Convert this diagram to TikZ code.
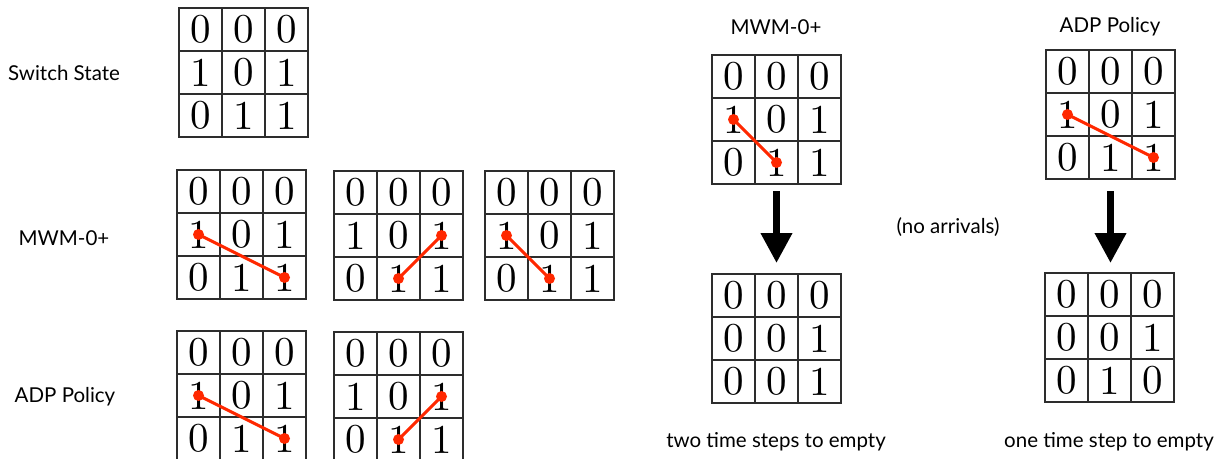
\documentclass[tikz,border=0pt]{standalone}
\usepackage{fontspec}
\newfontfamily\labfont{Lato}
\newfontfamily\digitfont{lmroman10-regular}[Extension=.otf]
\usetikzlibrary{arrows.meta}
\definecolor{matchred}{RGB}{255,40,0}
\definecolor{gridc}{RGB}{45,45,45}
\tikzset{
  cellbox/.style={draw=gridc, line width=1.6pt, minimum size=43pt, inner sep=0pt, outer sep=0pt,
    anchor=center, font=\digitfont\fontsize{41}{41}\selectfont},
  lab/.style={font=\labfont\fontsize{20.5}{24}\selectfont, inner sep=0pt},
  match/.style={draw=matchred, line width=3pt},
  bigarrow/.style={line width=7pt, -{Triangle[length=30pt,width=30pt]}}
}
% #1 name, #2 x of top-left, #3 y of top-left, #4 nine entries
\newcommand\switchgrid[4]{%
  \foreach \v [count=\k from 0] in {#4} {
    \pgfmathtruncatemacro\rr{int(\k/3)+1}
    \pgfmathtruncatemacro\cc{mod(\k,3)+1}
    \node[cellbox] (#1-\rr-\cc) at ({#2+(\cc-0.5)*43},{#3+(\rr-0.5)*43}) {\v};
  }%
  \coordinate (#1-south) at ({#2+1.5*43},{#3+3*43});
  \coordinate (#1-north) at ({#2+1.5*43},{#3});
}
\begin{document}
\begin{tikzpicture}[x=1pt,y=-1pt]
\useasboundingbox (0,0) rectangle (1218,458);
% left column labels
\node[lab] (lswitch) at (64,73) {Switch State};
\node[lab] (lmwm) at (64,238) {MWM-0+};
\node[lab] (ladp) at (65,397) {ADP Policy};
% switch state
\switchgrid{g0}{179}{8}{0,0,0,1,0,1,0,1,1}
% MWM row
\switchgrid{m1}{177}{170}{0,0,0,1,0,1,0,1,1}
\switchgrid{m2}{334}{171}{0,0,0,1,0,1,0,1,1}
\switchgrid{m3}{485}{171}{0,0,0,1,0,1,0,1,1}
% ADP row
\switchgrid{a1}{177}{331}{0,0,0,1,0,1,0,1,1}
\switchgrid{a2}{334}{332}{0,0,0,1,0,1,0,1,1}
% right part
\node[lab] (tmwm) at (776,27) {MWM-0+};
\node[lab] (tadp) at (1110,27) {ADP Policy};
\switchgrid{rmt}{712}{55}{0,0,0,1,0,1,0,1,1}
\switchgrid{rmb}{712}{274}{0,0,0,0,0,1,0,0,1}
\switchgrid{rat}{1046}{50}{0,0,0,1,0,1,0,1,1}
\switchgrid{rab}{1045}{273}{0,0,0,0,0,1,0,1,0}
\node[lab] (noarr) at (948,227) {(no arrivals)};
\node[lab] (two) at (776,442) {two time steps to empty};
\node[lab] (one) at (1109,442) {one time step to empty};
% arrows
\draw[bigarrow, shorten <=7pt, shorten >=11pt] (rmt-south) -- (rmt-south |- rmb-north);
\draw[bigarrow, shorten <=12pt, shorten >=10pt] (rat-south) -- (rat-south |- rab-north);
% matchings
\foreach \g/\p/\q in {m1/2-1/3-3, m2/2-3/3-2, m3/2-1/3-2, a1/2-1/3-3, a2/2-3/3-2, rmt/2-1/3-2, rat/2-1/3-3}{
  \draw[match] (\g-\p.center) -- (\g-\q.center);
  \fill[matchred] (\g-\p.center) circle (5.5pt);
  \fill[matchred] (\g-\q.center) circle (5.5pt);
}
\end{tikzpicture}
\end{document}
